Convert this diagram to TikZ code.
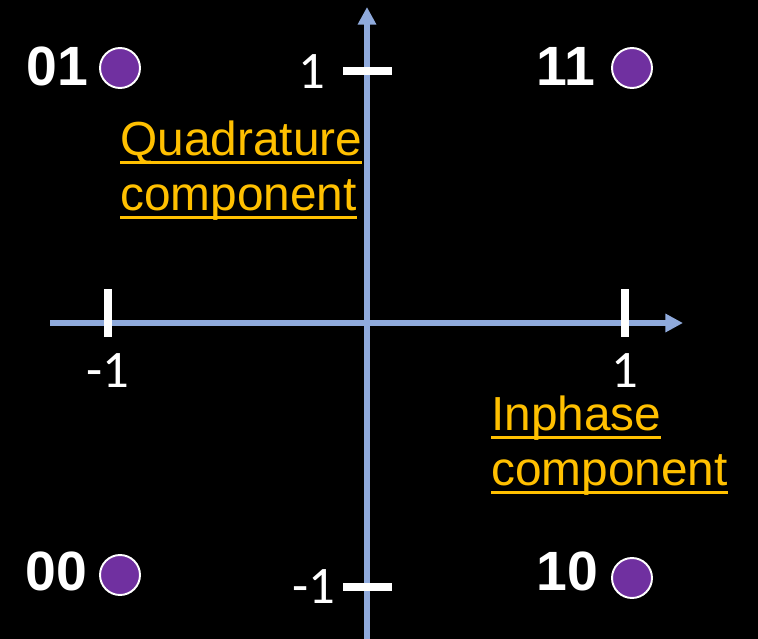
\documentclass[tikz,border=0pt]{standalone}
\usepackage{fontspec}
\setmainfont{Liberation Sans}
\newfontfamily\calfont{Carlito}
\usepackage{xcolor}
\usetikzlibrary{arrows.meta}
\definecolor{axblue}{RGB}{143,170,220}
\definecolor{orng}{RGB}{255,192,0}
\definecolor{purp}{RGB}{112,48,160}
\newcommand{\ulline}[1]{\sbox0{#1}\rlap{\rule[-4.9pt]{\wd0}{1.7pt}}\usebox0}

\begin{document}
\begin{tikzpicture}[x=0.02cm,y=-0.02cm,
  axis/.style={draw=axblue,line width=3pt,-{Triangle[length=10pt,width=10pt]}},
  tick/.style={draw=white,line width=4pt},
  dot/.style={circle,draw=white,line width=1.1pt,fill=purp,minimum size=0.8cm,inner sep=0pt},
  bits/.style={anchor=base west,inner sep=0pt,text=white,font=\fontsize{31.5}{36}\selectfont\bfseries},
  num/.style={anchor=base,inner sep=0pt,text=white,font=\calfont\fontsize{30}{36}\selectfont},
  comp/.style={anchor=base west,inner sep=0pt,text=orng,font=\fontsize{27.2}{32}\selectfont}]
  \fill[black] (0,0) rectangle (758,639);
  \useasboundingbox (0,0) rectangle (758,639);

  % axes
  \coordinate (xl) at (50,323);
  \coordinate (xr) at (683,323);
  \coordinate (yb) at (367,639);
  \coordinate (yt) at (367,7);
  \draw[axis] (xl) -- (xr);
  \draw[axis] (yb) -- (yt);

  % ticks
  \draw[tick] (108,289) -- (108,337);
  \draw[tick] (625,289) -- (625,337);
  \draw[tick] (343,71) -- (392,71);
  \draw[tick] (343,587) -- (392,587);
  \node[num] (xm) at (108,387) {-1};
  \node[num] (xp) at (625,387) {1};
  \node[num] (yp) at (312,88) {1};
  \node[num] (ym) at (314,603) {-1};

  % constellation points
  \node[dot] (d01) at (120,68) {};
  \node[dot] (d11) at (632,68) {};
  \node[dot] (d00) at (120,575) {};
  \node[dot] (d10) at (632,578) {};
  \node[bits] (b01) at (26,85) {01};
  \node[bits] (b11) at (536,85) {11};
  \node[bits] (b00) at (25,590) {00};
  \node[bits] (b10) at (536,590) {10};

  % axis names
  \node[comp] (q1) at (120,155) {\ulline{Quadrature}};
  \node[comp] (q2) at (120,210) {\ulline{component}};
  \node[comp] (i1) at (491,430) {\ulline{Inphase}};
  \node[comp] (i2) at (491,485) {\ulline{component}};
\end{tikzpicture}
\end{document}
